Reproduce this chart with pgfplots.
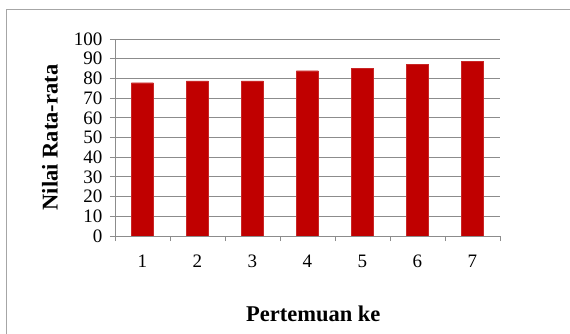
\documentclass[border=0pt]{standalone}
\usepackage{pgfplots}
\pgfplotsset{compat=1.18}
\usepackage{fontspec}
\setmainfont{Liberation Serif}
\definecolor{barred}{HTML}{C00000}
\definecolor{gridgray}{HTML}{8C8C8C}
\begin{document}
\begin{tikzpicture}
\begin{axis}[
  name=ax,
  scale only axis, width=385pt, height=197pt,
  ymin=0, ymax=100, ytick={0,10,...,100},
  xmin=0.5, xmax=7.5,
  xtick={1,...,7},
  minor xtick={0.5,1.5,...,7.5},
  axis x line=bottom, axis y line=left,
  axis line style={draw=gridgray, line width=0.9pt, -},
  ymajorgrids, grid style={draw=gridgray, line width=0.9pt},
  tick align=outside,
  major tick length=5pt, minor tick length=5pt,
  major x tick style={draw=none},
  minor x tick style={draw=gridgray, line width=0.9pt},
  y tick style={draw=gridgray, line width=0.9pt},
  /pgf/number format/assume math mode=true,
  tick label style={font=\fontsize{19}{20}\selectfont},
  yticklabel style={xshift=-4pt},
  xticklabel style={anchor=base, yshift=-26pt},
  xlabel={Pertemuan ke},
  ylabel={Nilai Rata-rata},
  label style={font=\fontsize{22.5}{24}\bfseries\selectfont},
  xlabel style={at={(axis description cs:0.515,0)}, anchor=center, yshift=-78pt},
  ylabel style={at={(axis description cs:0,0.5)}, anchor=center, yshift=65pt},
  bar width=22pt,
]
\addplot[ybar, fill=barred, draw=barred!85!white, line width=0.4pt]
  coordinates {(1,77.8) (2,78.7) (3,78.7) (4,83.9) (5,85.1) (6,87.1) (7,88.6)};
\end{axis}
% page extent and the chart's outer frame
\pgfresetboundingbox
\path[use as bounding box] ([shift={(-115pt,-98pt)}]ax.south west) rectangle +(570pt,334pt);
\draw[color=gray!70, line width=1pt]
  ([shift={(-108pt,-120pt)}]ax.south west) -- ([shift={(-108pt,226pt)}]ax.south west)
  -- ([shift={(480pt,226pt)}]ax.south west);
\end{tikzpicture}
\end{document}
